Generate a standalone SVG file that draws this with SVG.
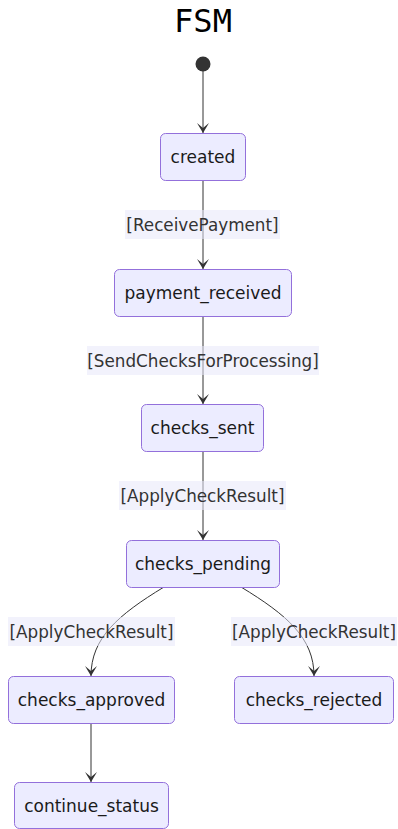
<svg xmlns="http://www.w3.org/2000/svg" width="398" height="829" viewBox="0 0 398 829">
  <style>
    .state rect { fill: #ECECFF; stroke: #9370DB; stroke-width: 1; }
    .state text { font-family: "DejaVu Sans", Verdana, sans-serif; font-size: 17px; fill: #1a1a1a; text-anchor: middle; dominant-baseline: central; }
    .edge { fill: none; stroke: #333; stroke-width: 1; }
    .elabel rect { fill: rgba(232, 232, 250, 0.55); }
    .elabel text { font-family: "DejaVu Sans", Verdana, sans-serif; font-size: 16.8px; fill: #333; text-anchor: middle; dominant-baseline: central; }
    .title { font-family: "DejaVu Sans Mono", "Liberation Mono", monospace; font-size: 32px; fill: #000; text-anchor: middle; }
  </style>
  <defs>
    <marker id="barb" viewBox="0 0 20 14" refX="19" refY="7" markerWidth="20" markerHeight="14" markerUnits="userSpaceOnUse" orient="auto">
      <path d="M 19,7 L 9,13 L 14,7 L 9,1 Z" fill="#333"/>
    </marker>
  </defs>

  <text class="title" x="203" y="32">FSM</text>

  <!-- transitions -->
  <g id="edges">
    <path class="edge" d="M203,71 L203,133" marker-end="url(#barb)"/>
    <path class="edge" d="M203,180 L203,269" marker-end="url(#barb)"/>
    <path class="edge" d="M203,316 L203,404" marker-end="url(#barb)"/>
    <path class="edge" d="M203,451 L203,540" marker-end="url(#barb)"/>
    <path class="edge" d="M164,587 C118,615 91,638 91,676" marker-end="url(#barb)"/>
    <path class="edge" d="M241,587 C287,615 314,638 314,676" marker-end="url(#barb)"/>
    <path class="edge" d="M91,723 L91,782" marker-end="url(#barb)"/>
  </g>

  <!-- transition labels -->
  <g id="edge-labels">
    <g class="elabel"><rect x="125" y="210" width="155" height="29"/><text x="202.5" y="224.5">[ReceivePayment]</text></g>
    <g class="elabel"><rect x="87" y="346" width="232" height="29"/><text x="203" y="360.5">[SendChecksForProcessing]</text></g>
    <g class="elabel"><rect x="119" y="481" width="167" height="29"/><text x="202.5" y="495.5">[ApplyCheckResult]</text></g>
    <g class="elabel"><rect x="8" y="617" width="167" height="29"/><text x="91.5" y="631.5">[ApplyCheckResult]</text></g>
    <g class="elabel"><rect x="231" y="617" width="166" height="29"/><text x="314" y="631.5">[ApplyCheckResult]</text></g>
  </g>

  <!-- states -->
  <g id="start"><circle cx="203" cy="64" r="7.5" fill="#333"/></g>
  <g id="created" class="state"><rect x="160.5" y="133.5" width="85" height="47" rx="5"/><text x="203" y="157">created</text></g>
  <g id="payment_received" class="state"><rect x="114.5" y="269.5" width="177" height="47" rx="5"/><text x="203" y="293">payment_received</text></g>
  <g id="checks_sent" class="state"><rect x="141.5" y="404.5" width="122" height="47" rx="5"/><text x="202.5" y="428">checks_sent</text></g>
  <g id="checks_pending" class="state"><rect x="126.5" y="540.5" width="153" height="47" rx="5"/><text x="203" y="564">checks_pending</text></g>
  <g id="checks_approved" class="state"><rect x="8.5" y="676.5" width="166" height="47" rx="5"/><text x="91.5" y="700">checks_approved</text></g>
  <g id="checks_rejected" class="state"><rect x="234.5" y="676.5" width="159" height="47" rx="5"/><text x="314" y="700">checks_rejected</text></g>
  <g id="continue_status" class="state"><rect x="14.5" y="782.5" width="154" height="46" rx="5"/><text x="91.5" y="806">continue_status</text></g>
</svg>
